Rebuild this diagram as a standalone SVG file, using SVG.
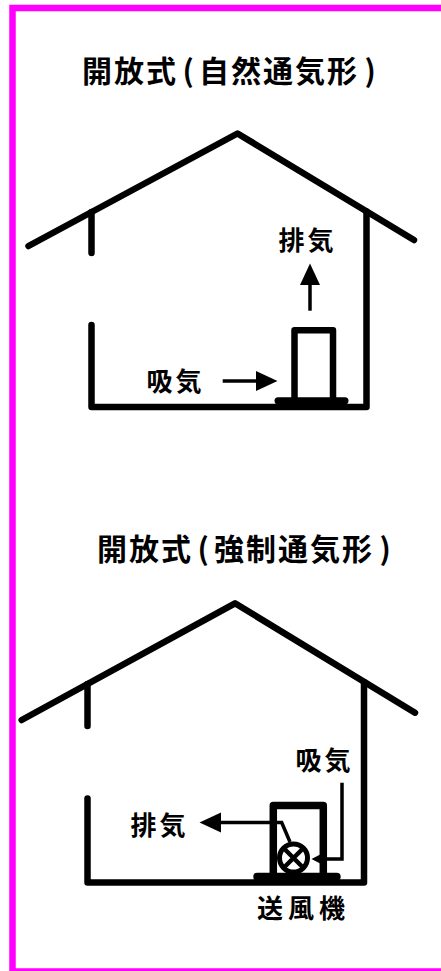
<svg xmlns="http://www.w3.org/2000/svg" width="441" height="971" viewBox="0 0 441 971">
  <style>
    .ln { fill: none; stroke: #000; stroke-linecap: round; stroke-linejoin: round; }
    .thick { stroke-width: 6.5; }
    .flow { fill: none; stroke: #000; stroke-width: 3.5; }
    .title { font-family: "Noto Sans CJK JP", "Noto Sans CJK SC", sans-serif; font-weight: bold; font-size: 30px; letter-spacing: 2px; fill: #000; }
    .lbl { font-family: "Noto Sans CJK JP", "Noto Sans CJK SC", sans-serif; font-weight: bold; font-size: 26px; letter-spacing: 3px; fill: #000; }
  </style>
  <defs>
    <marker id="headL" markerUnits="userSpaceOnUse" markerWidth="24" markerHeight="22" refX="0" refY="10" orient="auto">
      <path d="M0,0 L21.5,10 L0,20 Z" fill="#000"/>
    </marker>
    <marker id="headS" markerUnits="userSpaceOnUse" markerWidth="18" markerHeight="18" refX="0" refY="8" orient="auto">
      <path d="M0,0 L15.5,8 L0,16 Z" fill="#000"/>
    </marker>
  </defs>

  <rect width="441" height="971" fill="#fff"/>
  <!-- frame -->
  <rect x="12.5" y="8" width="440" height="963.5" fill="none" stroke="#ff00ff" stroke-width="6.5"/>

  <!-- natural draft (upper) -->
  <g id="title-natural">
    <text class="title" y="81.5"><tspan x="82">開放式</tspan><tspan x="182.5">(</tspan><tspan x="199">自然通気形</tspan><tspan x="364.5">)</tspan></text>
  </g>
  <g id="house-natural">
    <polyline class="ln thick" points="28.5,246 237.5,133.5 414,240"/>
    <line class="ln thick" x1="91.5" y1="212" x2="91.5" y2="253"/>
    <path class="ln thick" d="M91.5,325 V407 H366.5 V211.5"/>
  </g>
  <g id="heater-natural">
    <path class="ln thick" d="M294.5,400 V330.3 H333 V400"/>
    <line class="ln" stroke-width="7" x1="278" y1="400.7" x2="345" y2="400.7"/>
  </g>
  <g id="label-exhaust-natural">
    <text class="lbl" x="278.5" y="250">排気</text>
  </g>
  <g id="label-intake-natural">
    <text class="lbl" x="146.5" y="391">吸気</text>
  </g>

  <!-- forced draft (lower) -->
  <g id="title-forced">
    <text class="title" y="560"><tspan x="97">開放式</tspan><tspan x="197.5">(</tspan><tspan x="214">強制通気形</tspan><tspan x="379.5">)</tspan></text>
  </g>
  <g id="house-forced">
    <polyline class="ln thick" points="21.7,720 235,603.3 415,712.7"/>
    <line class="ln thick" x1="87.5" y1="684" x2="87.5" y2="726"/>
    <path class="ln thick" d="M87.5,798.5 V882.5 H364 V682"/>
  </g>
  <g id="heater-forced">
    <path class="ln" stroke-width="7.5" d="M273.3,876 V805.5 H323.3 V876"/>
    <line class="ln" stroke-width="8" x1="257.3" y1="876.7" x2="336.7" y2="876.7"/>
  </g>
  <g id="fan">
    <circle cx="293.5" cy="858" r="14" fill="#fff" stroke="#000" stroke-width="5"/>
    <path d="M285,849.5 L302,866.5 M302,849.5 L285,866.5" stroke="#000" stroke-width="4.5"/>
  </g>
  <g id="label-exhaust-forced">
    <text class="lbl" x="130.5" y="835">排気</text>
  </g>
  <g id="label-intake-forced">
    <text class="lbl" x="295.5" y="770">吸気</text>
  </g>
  <g id="label-fan">
    <text class="lbl" x="257" y="917.5" style="letter-spacing:5px">送風機</text>
  </g>

  <!-- air flow connectors -->
  <g id="connectors">
    <line class="flow" stroke-width="4" x1="310" y1="310.7" x2="310" y2="285" marker-end="url(#headL)"/>
    <line class="flow" stroke-width="4" x1="222.7" y1="381" x2="256" y2="381" marker-end="url(#headL)"/>
    <path class="flow" d="M290,842 L281.7,822.5 H221" marker-end="url(#headL)"/>
    <path class="flow" stroke-width="3" d="M342,782.7 V859 H327" marker-end="url(#headS)"/>
  </g>
</svg>
